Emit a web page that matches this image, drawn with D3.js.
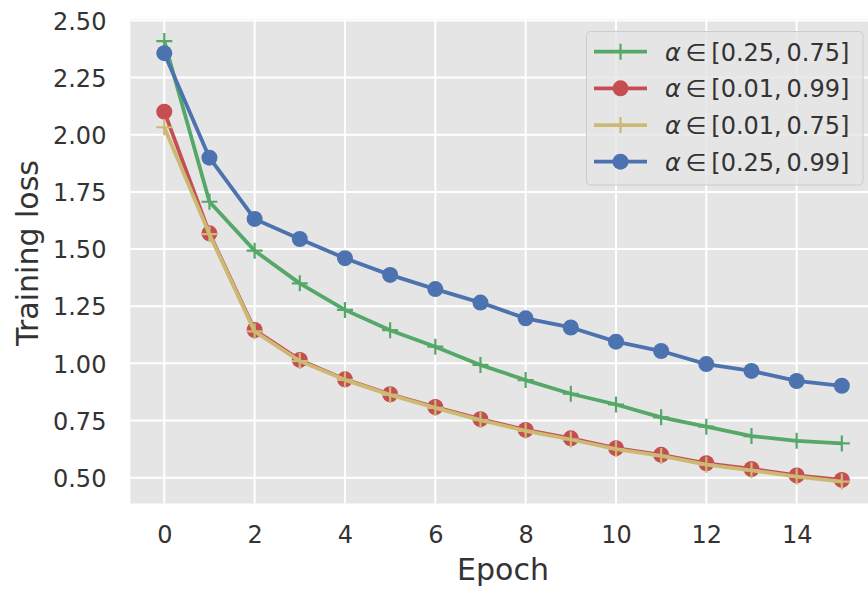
<!DOCTYPE html>
<html>
<head>
<meta charset="utf-8">
<script src="https://cdn.jsdelivr.net/npm/d3@7"></script>
<style>
  body { margin: 0; background: #fff; }
  text { font-family: 'DejaVu Sans', sans-serif; fill: #333; }
</style>
</head>
<body>
<div id="graph"></div>
<script>
var epochs = d3.range(0, 16)

var lossA = [2.41, 1.707, 1.493, 1.35, 1.234, 1.145, 1.073, 0.993, 0.927, 0.867, 0.82, 0.764, 0.723, 0.682, 0.661, 0.65]
var lossB = [2.101, 1.569, 1.146, 1.015, 0.93, 0.865, 0.809, 0.756, 0.709, 0.672, 0.629, 0.6, 0.563, 0.538, 0.51, 0.49]
var lossC = [2.033, 1.565, 1.14, 1.01, 0.928, 0.862, 0.805, 0.752, 0.705, 0.667, 0.625, 0.595, 0.557, 0.532, 0.505, 0.483]
var lossD = [2.357, 1.9, 1.632, 1.544, 1.46, 1.387, 1.325, 1.266, 1.197, 1.157, 1.095, 1.054, 0.997, 0.967, 0.923, 0.902]

var seriesNames = ['[0.25,\u20090.75]', '[0.01,\u20090.99]', '[0.01,\u20090.75]', '[0.25,\u20090.99]']
var xTicks = [0, 2, 4, 6, 8, 10, 12, 14]
var yTicks = [0.5, 0.75, 1.0, 1.25, 1.5, 1.75, 2.0, 2.25, 2.5]

var series = [
  {name: seriesNames[0], values: lossA, color: '#55a868', marker: 'plus'},
  {name: seriesNames[1], values: lossB, color: '#c44e52', marker: 'circle'},
  {name: seriesNames[2], values: lossC, color: '#ccb974', marker: 'plus'},
  {name: seriesNames[3], values: lossD, color: '#4c72b0', marker: 'circle'},
]

var width = 868, height = 592

var svg = d3.select('#graph').append('svg')
  .attr('width', width).attr('height', height)

// scales, matplotlib style 5% margins
var x = d3.scaleLinear().domain([-0.75, 15.75]).range([130.4, 875.7])
var y = d3.scaleLinear().domain([0.387, 2.506]).range([503.5, 19.1])

svg.append('rect')
  .attr('x', x.range()[0]).attr('y', y.range()[1])
  .attr('width', x.range()[1] - x.range()[0])
  .attr('height', y.range()[0] - y.range()[1])
  .attr('fill', '#e5e5e5')

// grid
var grid = svg.append('g')
grid.selectAll('.gx').data(xTicks).enter().append('line')
  .attr('x1', x).attr('x2', x)
  .attr('y1', y.range()[0]).attr('y2', y.range()[1])
  .attr('stroke', '#fff').attr('stroke-width', 2)
grid.selectAll('.gy').data(yTicks).enter().append('line')
  .attr('y1', y).attr('y2', y)
  .attr('x1', x.range()[0]).attr('x2', x.range()[1])
  .attr('stroke', '#fff').attr('stroke-width', 2)

// axes (text only, ggplot look)
var xAxis = svg.append('g')
  .attr('transform', 'translate(0,' + y.range()[0] + ')')
  .call(d3.axisBottom(x).tickValues(xTicks).tickSize(0).tickPadding(22).tickFormat(d3.format('d')))
var yAxis = svg.append('g')
  .attr('transform', 'translate(' + x.range()[0] + ',0)')
  .call(d3.axisLeft(y).tickValues(yTicks).tickSize(0).tickPadding(24).tickFormat(d3.format('.2f')))

;[xAxis, yAxis].forEach(a => {
  a.select('.domain').remove()
  a.selectAll('text')
    .attr('fill', '#333')
    .style('font-size', '24px')
    .style('font-family', "'DejaVu Sans', sans-serif")
})
yAxis.selectAll('text').attr('dy', '0.36em')

svg.append('text')
  .attr('x', (x.range()[0] + x.range()[1]) / 2).attr('y', 580)
  .attr('text-anchor', 'middle')
  .style('font-size', '30px')
  .text('Epoch')

svg.append('text')
  .attr('transform', 'translate(38,253) rotate(-90)')
  .attr('text-anchor', 'middle')
  .style('font-size', '30px')
  .text('Training loss')

// lines + markers
var line = d3.line().x((d, i) => x(epochs[i])).y(d => y(d))

function drawMarker(sel, s, r) {
  if (s.marker == 'circle') {
    sel.append('circle').attr('r', r).attr('fill', s.color)
  } else {
    sel.append('path')
      .attr('d', 'M' + (-r) + ',0H' + r + 'M0,' + (-r) + 'V' + r)
      .attr('stroke', s.color).attr('stroke-width', 2.2)
  }
}

var plot = svg.append('g')
series.forEach(s => {
  var g = plot.append('g')
  g.append('path')
    .attr('d', line(s.values))
    .attr('fill', 'none')
    .attr('stroke', s.color)
    .attr('stroke-width', 3.8)
    .attr('stroke-linejoin', 'round')
  g.selectAll('g').data(s.values).enter().append('g')
    .attr('transform', (d, i) => 'translate(' + x(epochs[i]) + ',' + y(d) + ')')
    .each(function () { drawMarker(d3.select(this), s, 8) })
})

// legend
var leg = svg.append('g')
leg.append('rect')
  .attr('x', 586.5).attr('y', 31.5).attr('width', 276.5).attr('height', 153.5)
  .attr('rx', 4)
  .attr('fill', '#e5e5e5').attr('fill-opacity', 0.8)
  .attr('stroke', '#cccccc').attr('stroke-width', 1)

var rowY = d3.scaleLinear().domain([0, 3]).range([51.7, 161.7])
series.forEach((s, i) => {
  var r = leg.append('g').attr('transform', 'translate(0,' + rowY(i) + ')')
  r.append('line')
    .attr('x1', 594).attr('x2', 647)
    .attr('stroke', s.color).attr('stroke-width', 3.8)
  drawMarker(r.append('g').attr('transform', 'translate(620.5,0)'), s, 8)
  var t = r.append('text').attr('x', 665).attr('y', 9).style('font-size', '24px')
  t.append('tspan').style('font-style', 'italic').text('α')
  t.append('tspan').text('\u2009∈\u2009' + s.name)
})
</script>
</body>
</html>
